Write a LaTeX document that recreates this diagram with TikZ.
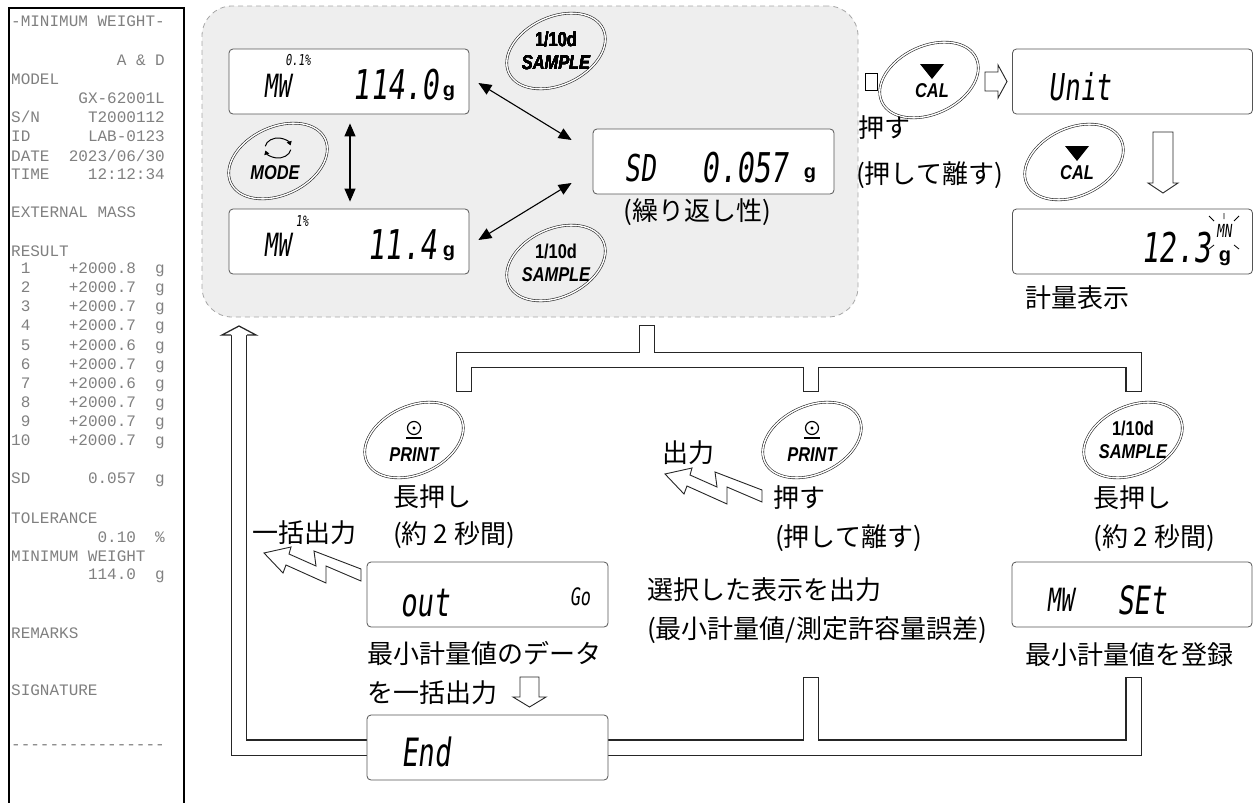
\documentclass[tikz,border=0pt]{standalone}
\usepackage{fontspec}
\setmainfont{Liberation Sans}
\setmonofont{Liberation Mono}
\newfontfamily\jpfont{Noto Sans CJK JP}
\newfontfamily\segfont[FakeStretch=0.7,FakeSlant=0.12]{DejaVu Sans Mono}
\newfontfamily\keyfont[FakeStretch=0.82]{Liberation Sans}
\usetikzlibrary{arrows.meta,positioning,calc,backgrounds}
\definecolor{zonegray}{HTML}{EEEEEE}
\definecolor{inkgray}{HTML}{555555}
\newcommand{\keyring}[1]{\draw[ring, rotate around={25:(#1)}] (#1) ellipse [x radius=52pt, y radius=34pt];}
\newcommand{\zigarrow}[2][]{\begin{scope}[shift={(#2)},#1]
  \draw[zig] (0,0) -- (27,-6) -- (25,1) -- (52,13) -- (50,-2) -- (97,16) -- (97,28) -- (62,13) -- (62,30) -- (22,12) -- (19,20) -- cycle;
\end{scope}}

\begin{document}
\begin{tikzpicture}[x=1pt, y=-1pt, line join=miter,
  zone/.style={draw=gray!70, dash pattern=on 5pt off 4pt, fill=zonegray, rounded corners=30pt, minimum width=656pt, minimum height=311pt, line width=0.8pt},
  lcd/.style={draw=inkgray, fill=white, rounded corners=4pt, line width=0.8pt, minimum height=65pt, inner sep=0pt},
  segL/.style={font=\segfont\fontsize{41}{41}\selectfont, inner sep=0pt},
  segM/.style={font=\segfont\fontsize{32}{32}\selectfont, inner sep=0pt},
  segS/.style={font=\segfont\fontsize{15}{15}\selectfont, inner sep=0pt},
  unitg/.style={font=\bfseries\fontsize{20}{20}\selectfont, inner sep=0pt},
  ring/.style={draw=black!85, double=white, double distance=1.4pt, line width=0.6pt},
  keylbl/.style={font=\keyfont\bfseries\fontsize{20}{23}\selectfont, inner sep=0pt, align=center},
  jp/.style={font=\jpfont\fontsize{26}{26}\selectfont, inner sep=0pt},
  prt/.style={font=\ttfamily\fontsize{16}{16}\selectfont, text=black!50, inner sep=0pt, anchor=west},
  biarrow/.style={{Triangle[length=13pt,width=11pt]}-{Triangle[length=13pt,width=11pt]}, line width=1.1pt},
  hollow/.style={draw=black!85, fill=white, line width=0.9pt},
  zig/.style={draw=black!85, fill=white, line width=0.9pt}]
\useasboundingbox (0,0) rectangle (1253,803);

\draw[line width=2.5pt] (9,803) -- (9,8) -- (184,8) -- (184,803);
\foreach \i/\txt in {0/-MINIMUM WEIGHT-, 2/{~~~~~~~~~~~A~\&~D}, 3/MODEL, 4/{~~~~~~~GX-62001L},
  5/{S/N~~~~~T2000112}, 6/{ID~~~~~~LAB-0123}, 7/{DATE~~2023/06/30}, 8/{TIME~~~~12:12:34},
  10/{EXTERNAL~MASS}, 12/RESULT, 13/{~1~~~~+2000.8~~g}, 14/{~2~~~~+2000.7~~g}, 15/{~3~~~~+2000.7~~g},
  16/{~4~~~~+2000.7~~g}, 17/{~5~~~~+2000.6~~g}, 18/{~6~~~~+2000.7~~g}, 19/{~7~~~~+2000.6~~g},
  20/{~8~~~~+2000.7~~g}, 21/{~9~~~~+2000.7~~g}, 22/{10~~~~+2000.7~~g}, 24/{SD~~~~~~0.057~~g},
  26/TOLERANCE, 27/{~~~~~~~~~0.10~~\%}, 28/{MINIMUM~WEIGHT}, 29/{~~~~~~~~114.0~~g},
  32/REMARKS, 35/SIGNATURE, 38/{----------------}}
  \node[prt] (p\i) at (11,21.7+19.1*\i) {\txt};

\node[zone] (zone) at (530,161.5) {};
\node[lcd, minimum width=240pt] (mwHi) at (349,81.5) {};
\node[lcd, minimum width=240pt] (mwLo) at (349,241.5) {};
\node[lcd, minimum width=241pt] (sdBox) at (713.5,161.5) {};
\node[lcd, minimum width=240pt] (unitBox) at (1132.5,81.5) {};
\node[lcd, minimum width=240pt] (weighBox) at (1132.5,241.5) {};
\node[lcd, minimum width=241pt] (outBox) at (487.5,594.5) {};
\node[lcd, minimum width=241pt] (endBox) at (487.5,747.5) {};
\node[lcd, minimum width=240pt] (setBox) at (1132,594.5) {};

\node[segS] (pctHi) at (298,60) {0.1\%};
\node[segM] (mwHiTxt) at (277,86) {MW};
\node[segL] (mwHiVal) at (396,85) {114.0};
\node[unitg] (gHi) at (449,93) {g};
\node[segS] (pctLo) at (302,221) {1\%};
\node[segM] (mwLoTxt) at (277,245) {MW};
\node[segL] (mwLoVal) at (402,245) {11.4};
\node[unitg] (gLo) at (449,253) {g};
\node[segL, font=\segfont\fontsize{37}{37}\selectfont] (sdTxt) at (640,168) {SD};
\node[segL] (sdVal) at (745,168) {0.057};
\node[unitg] (gSd) at (810,175) {g};
\node[segL, font=\segfont\fontsize{37}{37}\selectfont] (unitTxt) at (1080,87) {Unit};
\node[segL] (weighVal) at (1176,248) {12.3};
\node[segS, font=\segfont\fontsize{18}{18}\selectfont] (mnTxt) at (1224,231) {MN};
\node[unitg] (gWeigh) at (1225,258) {g};
\draw[line width=0.8pt] (1209,216) -- (1214,221) (1224,213) -- (1224,219) (1234,221) -- (1239,216)
  (1209,249) -- (1214,245) (1234,245) -- (1239,249);
\node[segL, font=\segfont\fontsize{39}{39}\selectfont] (outTxt) at (425,603) {out};
\node[segS, font=\segfont\fontsize{24}{24}\selectfont] (goTxt) at (580,597) {Go};
\node[segL, font=\segfont\fontsize{39}{39}\selectfont] (endTxt) at (426,752) {End};
\node[segM] (mwSetTxt) at (1060,600) {MW};
\node[segL, font=\segfont\fontsize{39}{39}\selectfont] (setTxt) at (1142,600) {SEt};

\coordinate (kSmpA) at (556,51);
\coordinate (kSmpB) at (556,263);
\coordinate (kMode) at (278,161);
\coordinate (kCalA) at (929,80);
\coordinate (kCalB) at (1074,162);
\coordinate (kPrtL) at (414,440);
\coordinate (kPrtM) at (812,440);
\coordinate (kSmpR) at (1133,440);
\foreach \k in {kSmpA,kSmpB,kMode,kCalA,kCalB,kPrtL,kPrtM,kSmpR} \keyring{\k}
\node[keylbl] (tSmpA) at (kSmpA) {1/10d\\{\itshape SAMPLE}};
\node[keylbl] (tSmpB) at (kSmpB) {1/10d\\{\itshape SAMPLE}};
\node[keylbl] (tSmpR) at (kSmpR) {1/10d\\{\itshape SAMPLE}};
\node[keylbl] (tMode) at ($(kMode)+(-3,12)$) {\itshape MODE};
\draw[line width=1pt, -{Triangle[length=4pt,width=5pt]}] ($(kMode)+(0,-13)$) ++(190:13 and 10) arc [start angle=190, end angle=345, x radius=13, y radius=10];
\draw[line width=1pt, -{Triangle[length=4pt,width=5pt]}] ($(kMode)+(0,-13)$) ++(10:13 and 10) arc [start angle=10, end angle=165, x radius=13, y radius=10];
\foreach \k in {kCalA,kCalB}{
  \fill ($(\k)+(-9,-16)$) -- ($(\k)+(15,-16)$) -- ($(\k)+(3,-1)$) -- cycle;
  \node[keylbl] (t\k) at ($(\k)+(3,10.5)$) {\itshape CAL};
}
\foreach \k in {kPrtL,kPrtM}{
  \draw[line width=1.2pt] ($(\k)+(0,-12)$) circle (6.5pt);
  \fill ($(\k)+(0,-12)$) circle (1.6pt);
  \draw[line width=1.2pt] ($(\k)+(-8,-2)$) -- ($(\k)+(8,-2)$);
  \node[keylbl] (t\k) at ($(\k)+(0,15)$) {\itshape PRINT};
}

\draw[biarrow] ($(mwHi.south)+(1,9)$) -- ($(mwLo.north)+(1,-7)$);
\draw[biarrow] ($(mwHi.east)+(9,1.5)$) -- ($(sdBox.west)+(-21,-21.5)$);
\draw[biarrow] ($(mwLo.east)+(9,-1.5)$) -- ($(sdBox.west)+(-21,21.5)$);

\node[draw, fill=white, line width=0.8pt, minimum width=12pt, minimum height=17pt, inner sep=0pt] (calStub) at (871,81.5) {};
\draw[hollow] (985,72) -- (998,72) -- (998,65) -- (1007,81.5) -- (998,98) -- (998,91) -- (985,91) -- cycle;
\draw[hollow] (1153,132) -- (1173,132) -- (1173,183) -- (1178,183) -- (1163,193) -- (1148,183) -- (1153,183) -- cycle;
\draw[hollow] (520,677) -- (539,677) -- (539,697) -- (546,697) -- (529.5,707) -- (513,697) -- (520,697) -- cycle;

\begin{scope}[on background layer]
\foreach \w/\c/\s in {16.5pt/black!85/0pt, 14pt/white/1pt}{
  \draw[line width=\w, draw=\c, shorten <=\s] (647,325) -- (647,360);
  \draw[line width=\w, draw=\c, shorten <=\s, shorten >=\s] (464,392) -- (464,360) -- (1133.5,360) -- (1133.5,392);
  \draw[line width=\w, draw=\c, shorten >=\s] (811,360) -- (811,392);
  \draw[line width=\w, draw=\c] (endBox.west) -- (239,747.5) -- (239,335);
  \draw[line width=\w, draw=\c, shorten >=\s] (endBox.east) -- (1133.5,747.5) -- (1133.5,677);
  \draw[line width=\w, draw=\c, shorten >=\s] (811,747.5) -- (811,677);
}
\end{scope}
\fill[white] (222,335) -- (239,326) -- (256,335) -- cycle;
\draw[line width=1.25pt, black!85] (231,335) -- (222,335) -- (239,326) -- (256,335) -- (247,335);

\zigarrow{665,474}
\zigarrow{264,553}

\node[jp] (repLbl) at (697,212) {(繰り返し性)};
\node[jp, anchor=west] (pushA) at (858,128) {押す};
\node[jp, anchor=west] (pushRelA) at (856,175) {(押して離す)};
\node[jp, anchor=west] (weighLbl) at (1025,298) {計量表示};
\node[jp] (outLbl) at (688,453) {出力};
\node[jp, anchor=west] (holdL) at (393,497) {長押し};
\node[jp, anchor=west] (secL) at (393,535) {(約 2 秒間)};
\node[jp, anchor=west] (pushB) at (773,498) {押す};
\node[jp, anchor=east] (pushRelB) at (922,538) {(押して離す)};
\node[jp, anchor=west] (holdR) at (1093,498) {長押し};
\node[jp, anchor=west] (secR) at (1093,538) {(約 2 秒間)};
\node[jp] (bulkLbl) at (304,533) {一括出力};
\node[jp, anchor=west] (selLbl) at (647,590) {選択した表示を出力};
\node[jp, anchor=west] (selSub) at (647,630) {(最小計量値/測定許容量誤差)};
\node[jp, anchor=west] (dataLbl) at (367,653) {最小計量値のデータ};
\node[jp, anchor=west] (dataSub) at (367,693) {を一括出力};
\node[jp, anchor=west] (regLbl) at (1025,655) {最小計量値を登録};
\end{tikzpicture}
\end{document}
